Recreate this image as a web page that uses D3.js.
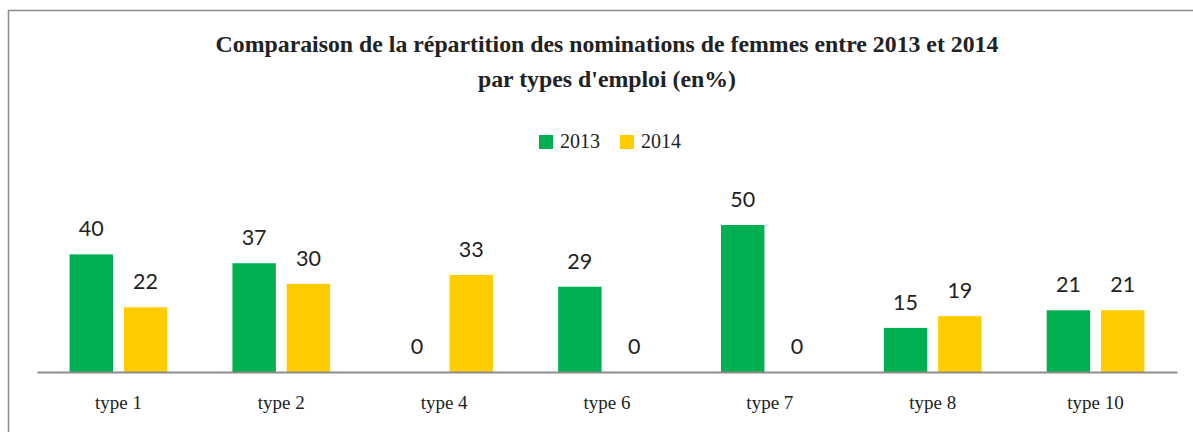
<!DOCTYPE html>
<html>
<head>
<meta charset="utf-8">
<script src="https://cdn.jsdelivr.net/npm/d3@7"></script>
<style>
  html, body { margin: 0; padding: 0; background: #fff; }
  svg { display: block; }
</style>
</head>
<body>
<svg id="chart" width="1193" height="432"></svg>
<script>
// Job types and percentage of women appointed, per year
const categories = ["type 1", "type 2", "type 4", "type 6", "type 7", "type 8", "type 10"];
const years = ["2013", "2014"];
const values2013 = [40, 37, 0, 29, 50, 15, 21];
const values2014 = [22, 30, 33, 0, 0, 19, 21];
const colors = ["#00b050", "#ffcc00"];
const titleLines = [
  "Comparaison de la répartition des nominations de femmes entre 2013 et 2014",
  "par types d'emploi (en%)"
];

const series = [values2013, values2014];
const svg = d3.select("#chart");

// Outer frame
svg.append("path")
  .attr("d", "M8.5,432 V10.5 H1193")
  .attr("fill", "none")
  .attr("stroke", "#8c8c8c")
  .attr("stroke-width", 1.5);

// Title
svg.append("g")
  .selectAll("text")
  .data(titleLines)
  .join("text")
  .attr("x", 607)
  .attr("y", (d, i) => 52 + i * 35)
  .attr("text-anchor", "middle")
  .attr("font-family", "'Liberation Serif', 'Times New Roman', serif")
  .attr("font-weight", "bold")
  .attr("font-size", 23.8)
  .attr("fill", "#222")
  .text(d => d);

// Scales
const x0 = d3.scaleBand().domain(categories).range([37, 1177]).paddingInner(0).paddingOuter(0);
const x1 = d3.scaleBand().domain(years).range([0, x0.bandwidth()]).paddingInner(0.2).paddingOuter(0.6);
const y = d3.scaleLinear().domain([0, 50]).range([372, 225]);

// Bars
const groups = svg.append("g")
  .selectAll("g")
  .data(categories)
  .join("g")
  .attr("transform", d => `translate(${x0(d)},0)`);

groups.selectAll("rect")
  .data((d, i) => years.map((yr, k) => ({ yr, k, v: series[k][i] })))
  .join("rect")
  .attr("x", d => x1(d.yr))
  .attr("width", x1.bandwidth())
  .attr("y", d => y(d.v))
  .attr("height", d => y(0) - y(d.v))
  .attr("fill", d => colors[d.k]);

// Value labels
groups.selectAll("text")
  .data((d, i) => years.map((yr, k) => ({ yr, k, v: series[k][i] })))
  .join("text")
  .attr("x", d => x1(d.yr) + x1.bandwidth() / 2)
  .attr("y", d => y(d.v) - 18)
  .attr("text-anchor", "middle")
  .attr("font-family", "Lato, 'Open Sans', sans-serif")
  .attr("font-size", 21.5)
  .attr("fill", "#222")
  .text(d => d.v);

// Category axis
const axis = svg.append("g")
  .attr("transform", `translate(0,${y(0)})`)
  .call(d3.axisBottom(x0).tickSize(0).tickPadding(23.5));
axis.select(".domain").attr("stroke", "#8c8c8c").attr("stroke-width", 2);
axis.selectAll("text")
  .attr("font-family", "'Liberation Serif', 'Times New Roman', serif")
  .attr("font-size", 19)
  .attr("fill", "#222");

// Legend
const legend = svg.append("g")
  .selectAll("g")
  .data(years)
  .join("g")
  .attr("transform", (d, i) => `translate(${539 + i * 81},135)`);
legend.append("rect")
  .attr("width", 14)
  .attr("height", 14)
  .attr("fill", (d, i) => colors[i]);
legend.append("text")
  .attr("x", 21)
  .attr("y", 12.5)
  .attr("font-family", "'Liberation Serif', 'Times New Roman', serif")
  .attr("font-size", 20)
  .attr("fill", "#222")
  .text(d => d);
</script>
</body>
</html>
